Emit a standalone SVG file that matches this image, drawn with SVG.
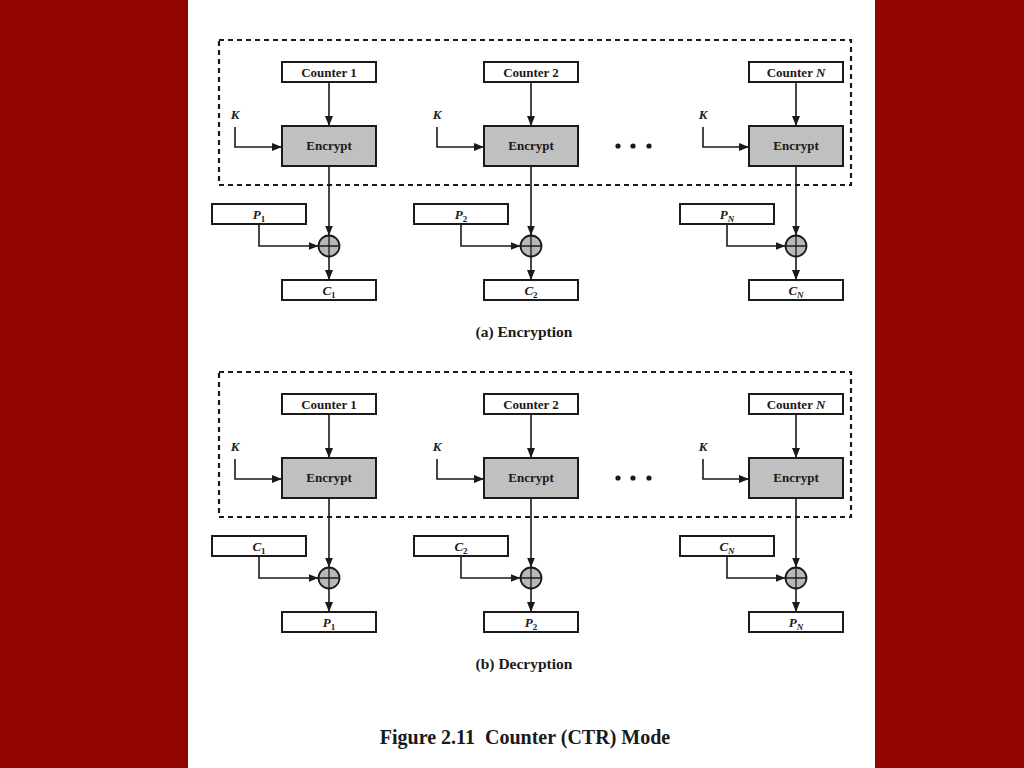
<svg xmlns="http://www.w3.org/2000/svg" width="1024" height="768" viewBox="0 0 1024 768">
<defs>
<marker id="ah" markerWidth="10" markerHeight="8" refX="10" refY="4" orient="auto" markerUnits="userSpaceOnUse">
<path d="M0,0 L10,4 L0,8 Z" fill="#1a1a1a"/>
</marker>
<g id="xor">
<circle cx="0" cy="0" r="10.5" fill="#b8b8b8" stroke="#1a1a1a" stroke-width="1.8"/>
<path d="M-10.5,0 H10.5 M0,-10.5 V10.5" stroke="#1a1a1a" stroke-width="1.3"/>
</g>
</defs>
<style>
.bg{fill:#930600}
.box{fill:#fff;stroke:#1a1a1a;stroke-width:2}
.enc{fill:#c0c0c0;stroke:#1a1a1a;stroke-width:2}
.dash{fill:none;stroke:#1a1a1a;stroke-width:2.2;stroke-dasharray:5 4}
.ln{fill:none;stroke:#1a1a1a;stroke-width:1.6;marker-end:url(#ah)}
.t{font-family:"Liberation Serif","Times New Roman",serif;font-weight:bold;font-size:13px;fill:#1a1a1a;text-anchor:middle}
.i{font-style:italic}
.cap{font-family:"Liberation Serif","Times New Roman",serif;font-weight:bold;font-size:15.5px;fill:#1a1a1a;text-anchor:middle}
.fig{font-family:"Liberation Serif","Times New Roman",serif;font-weight:bold;font-size:20px;fill:#1a1a1a;text-anchor:middle;white-space:pre}
.dot{fill:#1a1a1a}
</style>
<rect class="bg" x="0" y="0" width="1024" height="768"/>
<rect x="188" y="0" width="687" height="768" fill="#fff"/>

<!-- (a) Encryption -->
<g id="enc-frame"><rect class="dash" x="219" y="40" width="632" height="145"/></g>

<g id="a-counter1"><rect class="box" x="282" y="62" width="94" height="20"/><text class="t" x="329" y="77">Counter 1</text></g>
<g id="a-counter2"><rect class="box" x="484" y="62" width="94" height="20"/><text class="t" x="531" y="77">Counter 2</text></g>
<g id="a-counterN"><rect class="box" x="749" y="62" width="94" height="20"/><text class="t" x="796" y="77">Counter <tspan class="i">N</tspan></text></g>

<g id="a-encrypt1"><rect class="enc" x="282" y="126" width="94" height="40"/><text class="t" x="329" y="150">Encrypt</text></g>
<g id="a-encrypt2"><rect class="enc" x="484" y="126" width="94" height="40"/><text class="t" x="531" y="150">Encrypt</text></g>
<g id="a-encryptN"><rect class="enc" x="749" y="126" width="94" height="40"/><text class="t" x="796" y="150">Encrypt</text></g>

<g id="a-k1"><text class="t i" x="235" y="119">K</text></g>
<g id="a-k2"><text class="t i" x="437" y="119">K</text></g>
<g id="a-kN"><text class="t i" x="703" y="119">K</text></g>

<g id="a-dots"><circle class="dot" cx="618" cy="146" r="2.6"/><circle class="dot" cx="633" cy="146" r="2.6"/><circle class="dot" cx="649" cy="146" r="2.6"/></g>

<g id="a-p1"><rect class="box" x="212" y="204" width="94" height="20"/><text class="t i" x="259" y="219">P<tspan font-size="9" font-style="normal" dy="3">1</tspan></text></g>
<g id="a-p2"><rect class="box" x="414" y="204" width="94" height="20"/><text class="t i" x="461" y="219">P<tspan font-size="9" font-style="normal" dy="3">2</tspan></text></g>
<g id="a-pN"><rect class="box" x="680" y="204" width="94" height="20"/><text class="t i" x="727" y="219">P<tspan font-size="9" dy="3">N</tspan></text></g>

<g id="a-xor1"><use href="#xor" x="329" y="246"/></g>
<g id="a-xor2"><use href="#xor" x="531" y="246"/></g>
<g id="a-xorN"><use href="#xor" x="796" y="246"/></g>

<g id="a-c1"><rect class="box" x="282" y="280" width="94" height="20"/><text class="t i" x="329" y="295">C<tspan font-size="9" font-style="normal" dy="3">1</tspan></text></g>
<g id="a-c2"><rect class="box" x="484" y="280" width="94" height="20"/><text class="t i" x="531" y="295">C<tspan font-size="9" font-style="normal" dy="3">2</tspan></text></g>
<g id="a-cN"><rect class="box" x="749" y="280" width="94" height="20"/><text class="t i" x="796" y="295">C<tspan font-size="9" dy="3">N</tspan></text></g>

<g id="a-connectors">
<path class="ln" d="M329,82 V126"/><path class="ln" d="M531,82 V126"/><path class="ln" d="M796,82 V126"/>
<path class="ln" d="M235,127 V147 H282"/><path class="ln" d="M437,127 V147 H484"/><path class="ln" d="M703,127 V147 H749"/>
<path class="ln" d="M329,166 V235.5"/><path class="ln" d="M531,166 V235.5"/><path class="ln" d="M796,166 V235.5"/>
<path class="ln" d="M259,224 V246 H318.5"/><path class="ln" d="M461,224 V246 H520.5"/><path class="ln" d="M727,224 V246 H785.5"/>
<path class="ln" d="M329,256.5 V280"/><path class="ln" d="M531,256.5 V280"/><path class="ln" d="M796,256.5 V280"/>
</g>

<text class="cap" x="524" y="337">(a) Encryption</text>

<!-- (b) Decryption -->
<g id="dec-frame"><rect class="dash" x="219" y="372" width="632" height="145"/></g>

<g id="b-counter1"><rect class="box" x="282" y="394" width="94" height="20"/><text class="t" x="329" y="409">Counter 1</text></g>
<g id="b-counter2"><rect class="box" x="484" y="394" width="94" height="20"/><text class="t" x="531" y="409">Counter 2</text></g>
<g id="b-counterN"><rect class="box" x="749" y="394" width="94" height="20"/><text class="t" x="796" y="409">Counter <tspan class="i">N</tspan></text></g>

<g id="b-encrypt1"><rect class="enc" x="282" y="458" width="94" height="40"/><text class="t" x="329" y="482">Encrypt</text></g>
<g id="b-encrypt2"><rect class="enc" x="484" y="458" width="94" height="40"/><text class="t" x="531" y="482">Encrypt</text></g>
<g id="b-encryptN"><rect class="enc" x="749" y="458" width="94" height="40"/><text class="t" x="796" y="482">Encrypt</text></g>

<g id="b-k1"><text class="t i" x="235" y="451">K</text></g>
<g id="b-k2"><text class="t i" x="437" y="451">K</text></g>
<g id="b-kN"><text class="t i" x="703" y="451">K</text></g>

<g id="b-dots"><circle class="dot" cx="618" cy="478" r="2.6"/><circle class="dot" cx="633" cy="478" r="2.6"/><circle class="dot" cx="649" cy="478" r="2.6"/></g>

<g id="b-c1"><rect class="box" x="212" y="536" width="94" height="20"/><text class="t i" x="259" y="551">C<tspan font-size="9" font-style="normal" dy="3">1</tspan></text></g>
<g id="b-c2"><rect class="box" x="414" y="536" width="94" height="20"/><text class="t i" x="461" y="551">C<tspan font-size="9" font-style="normal" dy="3">2</tspan></text></g>
<g id="b-cN"><rect class="box" x="680" y="536" width="94" height="20"/><text class="t i" x="727" y="551">C<tspan font-size="9" dy="3">N</tspan></text></g>

<g id="b-xor1"><use href="#xor" x="329" y="578"/></g>
<g id="b-xor2"><use href="#xor" x="531" y="578"/></g>
<g id="b-xorN"><use href="#xor" x="796" y="578"/></g>

<g id="b-p1"><rect class="box" x="282" y="612" width="94" height="20"/><text class="t i" x="329" y="627">P<tspan font-size="9" font-style="normal" dy="3">1</tspan></text></g>
<g id="b-p2"><rect class="box" x="484" y="612" width="94" height="20"/><text class="t i" x="531" y="627">P<tspan font-size="9" font-style="normal" dy="3">2</tspan></text></g>
<g id="b-pN"><rect class="box" x="749" y="612" width="94" height="20"/><text class="t i" x="796" y="627">P<tspan font-size="9" dy="3">N</tspan></text></g>

<g id="b-connectors">
<path class="ln" d="M329,414 V458"/><path class="ln" d="M531,414 V458"/><path class="ln" d="M796,414 V458"/>
<path class="ln" d="M235,459 V479 H282"/><path class="ln" d="M437,459 V479 H484"/><path class="ln" d="M703,459 V479 H749"/>
<path class="ln" d="M329,498 V567.5"/><path class="ln" d="M531,498 V567.5"/><path class="ln" d="M796,498 V567.5"/>
<path class="ln" d="M259,556 V578 H318.5"/><path class="ln" d="M461,556 V578 H520.5"/><path class="ln" d="M727,556 V578 H785.5"/>
<path class="ln" d="M329,588.5 V612"/><path class="ln" d="M531,588.5 V612"/><path class="ln" d="M796,588.5 V612"/>
</g>

<text class="cap" x="524" y="669">(b) Decryption</text>

<text class="fig" x="525" y="744" xml:space="preserve">Figure 2.11  Counter (CTR) Mode</text>
</svg>
